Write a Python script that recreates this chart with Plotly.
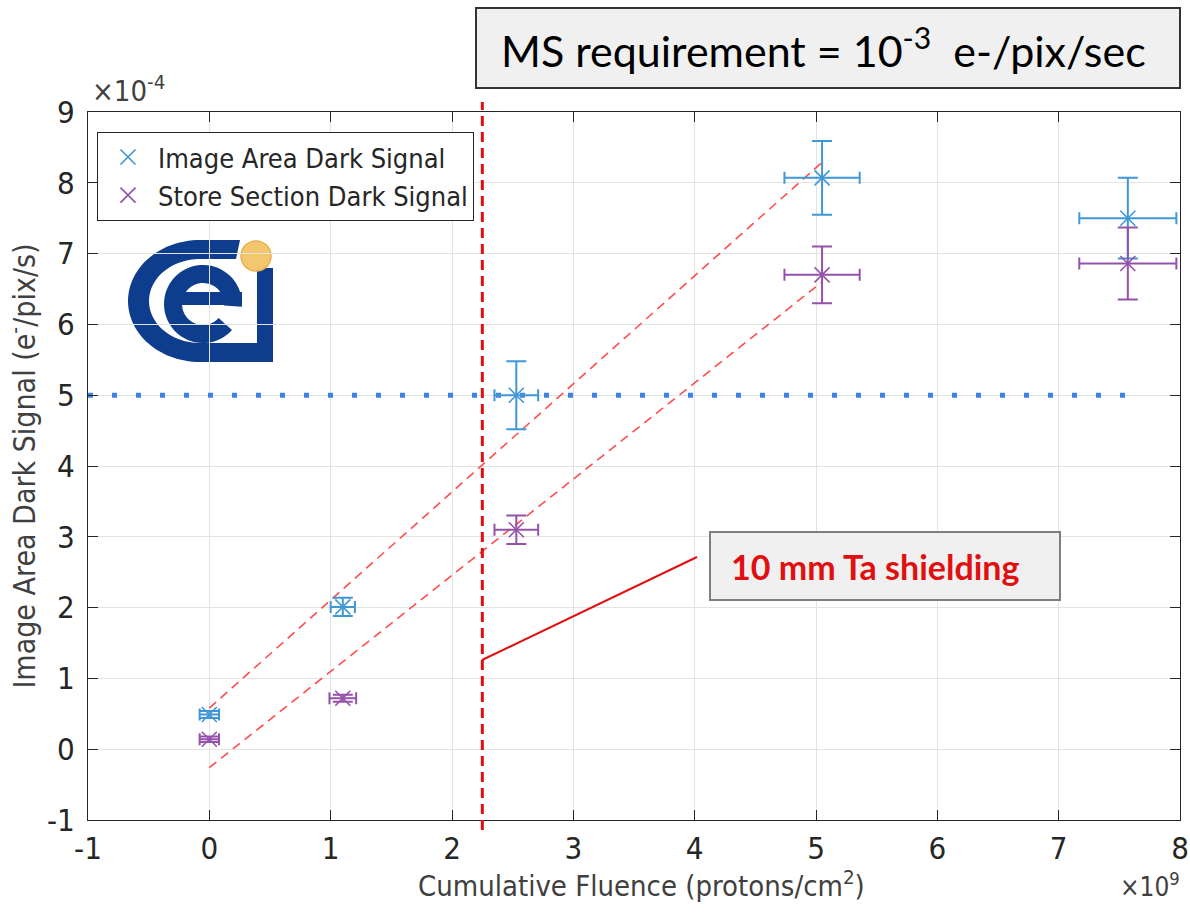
import numpy as np
import plotly.graph_objects as go

# ---------------- data (x in 1e9 protons/cm^2, y in 1e-4 e-/pix/s) ----------------
img_x = [0.0, 1.1, 2.53, 5.05, 7.57]
img_y = [0.49, 2.01, 5.0, 8.07, 7.5]
img_xerr = [0.08, 0.10, 0.18, 0.31, 0.40]
img_yerr = [0.05, 0.13, 0.48, 0.52, 0.57]

st_x = [0.0, 1.1, 2.53, 5.05, 7.57]
st_y = [0.14, 0.72, 3.1, 6.7, 6.86]
st_xerr = [0.08, 0.11, 0.18, 0.31, 0.40]
st_yerr = [0.04, 0.05, 0.20, 0.40, 0.51]

fit_x = [0.0, 5.05]
fit_img = [0.58, 8.29]
fit_st = [-0.26, 6.60]

req_x = [-1.0, 7.6]
req_y = [5.0, 5.0]

shield_x = 2.25

x_ticks = list(range(-1, 9))
y_ticks = list(range(-1, 10))

# ---------------- layout geometry ----------------
W, H = 1190, 916
ML, MR, MT, MB = 88, 10, 112, 96
PW, PH = W - ML - MR, H - MT - MB


def P(px, py):
    return ((px - ML) / PW, (H - MB - py) / PH)


def path_from(points):
    pts = [P(a, b) for a, b in points]
    s = "M %.5f,%.5f " % pts[0]
    s += " ".join("L %.5f,%.5f" % p for p in pts[1:])
    return s + " Z"


def ring(cx, cy, rxo, ryo, rxi, ryi, t0, t1, n=60):
    t = np.linspace(np.radians(t0), np.radians(t1), n)
    outer = [(cx + rxo * np.cos(a), cy - ryo * np.sin(a)) for a in t]
    inner = [(cx + rxi * np.cos(a), cy - ryi * np.sin(a)) for a in t[::-1]]
    return outer + inner


BLUE = "#3f97d6"
PURPLE = "#9452aa"
AX = "#262626"
FONT = "Liberation Sans Narrow, Arial Narrow, DejaVu Sans Condensed, Liberation Sans, Arial"

fig = go.Figure()

# fit lines
fig.add_trace(go.Scatter(x=fit_x, y=fit_img, mode="lines", showlegend=False,
                         line=dict(color="#ff4d4d", width=1.6, dash="9px,6px"), hoverinfo="skip"))
fig.add_trace(go.Scatter(x=fit_x, y=fit_st, mode="lines", showlegend=False,
                         line=dict(color="#ff4d4d", width=1.6, dash="9px,6px"), hoverinfo="skip"))
# requirement dotted line
fig.add_trace(go.Scatter(x=req_x, y=req_y, mode="lines", showlegend=False,
                         line=dict(color="#3f82e6", width=5, dash="5px,19px"), hoverinfo="skip"))

fig.add_trace(go.Scatter(
    x=img_x, y=img_y, mode="markers", name="Image Area Dark Signal",
    marker=dict(symbol="x-thin", size=15, line=dict(width=1.6, color=BLUE), color=BLUE),
    error_x=dict(type="data", array=img_xerr, color=BLUE, thickness=2, width=6),
    error_y=dict(type="data", array=img_yerr, color=BLUE, thickness=2, width=10)))
fig.add_trace(go.Scatter(
    x=st_x, y=st_y, mode="markers", name="Store Section Dark Signal",
    marker=dict(symbol="x-thin", size=15, line=dict(width=1.6, color=PURPLE), color=PURPLE),
    error_x=dict(type="data", array=st_xerr, color=PURPLE, thickness=2, width=6),
    error_y=dict(type="data", array=st_yerr, color=PURPLE, thickness=2, width=10)))

shapes = []
# logo background
x0, y0 = P(123, 363)
x1, y1 = P(292, 235)
shapes.append(dict(type="rect", xref="paper", yref="paper", x0=x0, y0=y0, x1=x1, y1=y1,
                   fillcolor="white", line=dict(width=0), layer="between"))
LOGO = "#0e3d8e"
# outer C + bracket
c_pts = [(240, 240), (200, 240)]
tt = np.radians(np.linspace(90, 270, 60))
c_pts += [(200 + 72 * np.cos(a), 301 - 61 * np.sin(a)) for a in tt]
c_pts += [(273, 362), (273, 268), (257, 268), (257, 343)]
c_pts += [(200 + 51 * np.cos(a), 301 - 42 * np.sin(a)) for a in tt[::-1]]
c_pts += [(236, 259)]
shapes.append(dict(type="path", xref="paper", yref="paper", path=path_from(c_pts),
                   fillcolor=LOGO, line=dict(width=0), layer="between"))
# e
shapes.append(dict(type="path", xref="paper", yref="paper",
                   path=path_from(ring(203, 304, 39, 39, 21, 21, -4, 318)),
                   fillcolor=LOGO, line=dict(width=0), layer="between"))
shapes.append(dict(type="path", xref="paper", yref="paper",
                   path=path_from([(180, 292), (242, 292), (242, 305), (180, 305)]),
                   fillcolor=LOGO, line=dict(width=0), layer="between"))
# orange dot
x0, y0 = P(241, 271)
x1, y1 = P(271, 241)
shapes.append(dict(type="circle", xref="paper", yref="paper", x0=x0, y0=y0, x1=x1, y1=y1,
                   fillcolor="#f4c76e", line=dict(width=1.5, color="#e8b255"), layer="between"))

# vertical shielding line
shapes.append(dict(type="line", xref="x", yref="paper", x0=shield_x, x1=shield_x,
                   y0=P(0, 830)[1], y1=P(0, 102)[1],
                   line=dict(color="#e01010", width=3, dash="10px,6px"), layer="above"))
# connector
a0 = P(482, 660)
a1 = P(697, 557)
shapes.append(dict(type="line", xref="paper", yref="paper", x0=a0[0], y0=a0[1], x1=a1[0], y1=a1[1],
                   line=dict(color="#e01010", width=2), layer="above"))
# shielding box
x0, y0 = P(710, 600)
x1, y1 = P(1060, 532)
shapes.append(dict(type="rect", xref="paper", yref="paper", x0=x0, y0=y0, x1=x1, y1=y1,
                   fillcolor="#f0f0f0", line=dict(width=2, color="#7f7f7f"), layer="above"))
# title box
x0, y0 = P(476, 88)
x1, y1 = P(1180, 8)
shapes.append(dict(type="rect", xref="paper", yref="paper", x0=x0, y0=y0, x1=x1, y1=y1,
                   fillcolor="#f0f0f0", line=dict(width=2, color="#333333"), layer="above"))

annotations = []
tx, ty = P(823, 48)
annotations.append(dict(xref="paper", yref="paper", x=tx, y=ty, xanchor="center", yanchor="middle",
                        text="MS requirement = 10<sup>-3</sup>  e-/pix/sec", showarrow=False,
                        font=dict(family="Lato, Open Sans, sans-serif", size=43, color="black")))
tx, ty = P(729, 566)
annotations.append(dict(xref="paper", yref="paper", x=tx, y=ty, xanchor="left", yanchor="middle",
                        text="<b>10 mm Ta shielding</b>", showarrow=False,
                        font=dict(family="Lato, Open Sans, sans-serif", size=34, color="#e01010")))
tx, ty = P(90, 110)
annotations.append(dict(xref="paper", yref="paper", x=tx, y=ty, xanchor="left", yanchor="bottom",
                        text="×10<sup>-4</sup>", showarrow=False,
                        font=dict(family=FONT, size=29, color="#404040")))
tx, ty = P(1182, 885)
annotations.append(dict(xref="paper", yref="paper", x=tx, y=ty, xanchor="right", yanchor="middle",
                        text="×10<sup>9</sup>", showarrow=False,
                        font=dict(family=FONT, size=26, color="#404040")))
# x-axis title
tx, ty = P(641, 884)
annotations.append(dict(xref="paper", yref="paper", x=tx, y=ty, xanchor="center", yanchor="middle",
                        text="Cumulative Fluence (protons/cm<sup>2</sup>)", showarrow=False,
                        font=dict(family=FONT, size=29, color="#404040")))

axis_common = dict(showgrid=True, gridcolor="#e3e3e3", gridwidth=1, zeroline=False,
                   showline=True, linecolor=AX, linewidth=1, mirror="ticks",
                   ticks="inside", ticklen=10, tickcolor=AX, tickwidth=1,
                   tickfont=dict(family=FONT, size=31, color=AX))

fig.update_layout(
    width=W, height=H, autosize=False,
    margin=dict(l=ML, r=MR, t=MT, b=MB, autoexpand=False),
    paper_bgcolor="white", plot_bgcolor="white",
    xaxis=dict(range=[-1, 8], tickvals=x_ticks, ticktext=[str(v) for v in x_ticks],
               ticklabelstandoff=1, **axis_common),
    yaxis=dict(range=[-1, 9], tickvals=y_ticks, ticktext=[str(v) for v in y_ticks],
               title=dict(text="Image Area Dark Signal (e<sup>-</sup>/pix/s)", standoff=2,
                          font=dict(family=FONT, size=30, color="#404040")),
               ticklabelstandoff=6, **axis_common),
    legend=dict(x=P(97, 0)[0], y=P(0, 132)[1], xanchor="left", yanchor="top",
                bgcolor="white", bordercolor=AX, borderwidth=1, itemwidth=50,
                font=dict(family=FONT, size=27, color=AX), tracegroupgap=0),
    shapes=shapes, annotations=annotations,
)

fig.write_html("out.html")
